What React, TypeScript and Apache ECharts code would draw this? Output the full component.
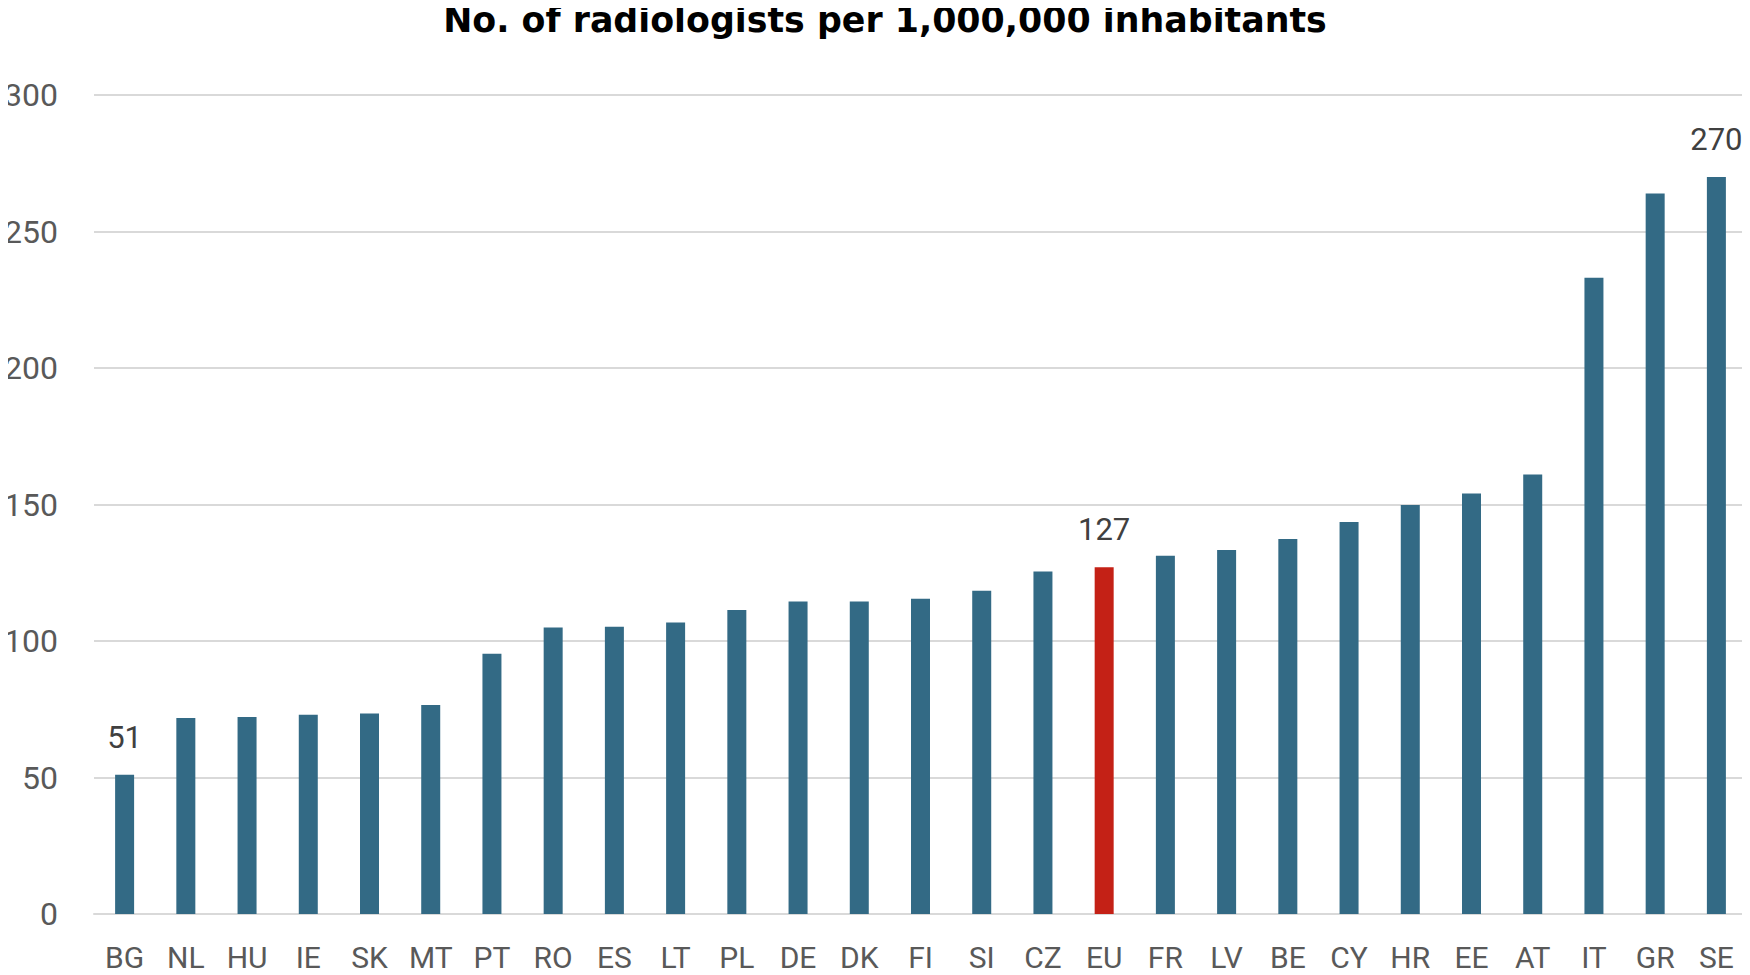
import React, { useEffect, useRef } from "react";
import * as echarts from "echarts";

const titleText = "No. of radiologists per 1,000,000 inhabitants";
const countries = ["BG","NL","HU","IE","SK","MT","PT","RO","ES","LT","PL","DE","DK","FI","SI","CZ","EU","FR","LV","BE","CY","HR","EE","AT","IT","GR","SE"];
const values = [51,71.8,72.2,73.0,73.4,76.6,95.3,104.9,105.2,106.8,111.4,114.5,114.5,115.5,118.4,125.5,127,131.2,133.3,137.4,143.6,149.8,154.0,161.0,233.1,263.9,270];
const labelled = ["BG","EU","SE"];
const highlight = "EU";
const yTicks = { min: 0, max: 300, interval: 50 };

export default function App() {
  const ref = useRef<HTMLDivElement>(null);
  useEffect(() => {
    if (!ref.current) return;
    const chart = echarts.init(ref.current, undefined, { renderer: "svg" });
    const data = values.map((v, i) => ({
      value: v,
      itemStyle: { color: countries[i] === highlight ? "#C42116" : "#336A85" },
      label: {
        show: labelled.includes(countries[i]),
        position: "top",
        distance: 22,
        formatter: (p: any) => String(Math.round(p.value)),
        fontFamily: "Roboto",
        fontSize: 31,
        color: "#404040",
      },
    }));
    chart.setOption({
      animation: false,
      backgroundColor: "#ffffff",
      title: {
        text: titleText,
        left: 880,
        top: -3,
        textAlign: "center",
        textStyle: { fontFamily: "DejaVu Sans", fontWeight: "bold", fontSize: 34.8, color: "#000000" },
      },
      grid: { left: 94, right: 3, top: 95, bottom: 61, containLabel: false },
      xAxis: {
        type: "category",
        data: countries,
        axisLine: { show: true, lineStyle: { color: "#D9D9D9", width: 2 } },
        axisTick: { show: false },
        axisLabel: { fontFamily: "Roboto", fontSize: 30, lineHeight: 30, color: "#595959", margin: 28, interval: 0 },
      },
      yAxis: {
        type: "value",
        min: yTicks.min,
        max: yTicks.max,
        interval: yTicks.interval,
        axisLine: { show: false },
        axisTick: { show: false },
        splitLine: { lineStyle: { color: "#D9D9D9", width: 2 } },
        axisLabel: { fontFamily: "Roboto", fontSize: 32, color: "#595959", margin: 36 },
      },
      series: [
        {
          type: "bar",
          data,
          barWidth: 19,
        },
      ],
    });
    return () => chart.dispose();
  }, []);
  return <div ref={ref} style={{ width: 1750, height: 975, marginLeft: -8, marginTop: -8 }} />;
}
